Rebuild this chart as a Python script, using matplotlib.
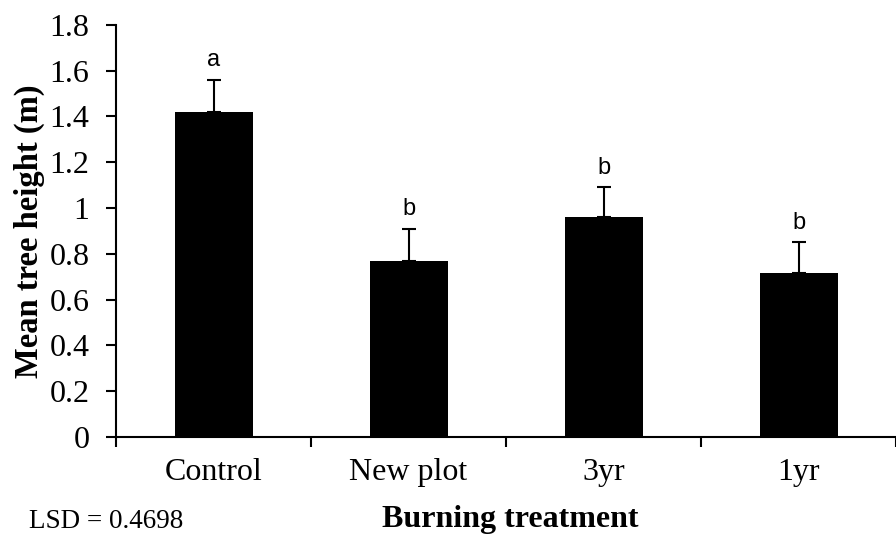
import matplotlib
matplotlib.use("Agg")
import matplotlib.pyplot as plt
import numpy as np

categories = ["Control", "New plot", "3yr", "1yr"]
means = [1.42, 0.77, 0.96, 0.715]
errors = [0.14, 0.14, 0.13, 0.135]
letters = ["a", "b", "b", "b"]
yticks = [0, 0.2, 0.4, 0.6, 0.8, 1.0, 1.2, 1.4, 1.6, 1.8]
yticklabels = ["0", "0.2", "0.4", "0.6", "0.8", "1", "1.2", "1.4", "1.6", "1.8"]

serif = "Liberation Serif"
sans = "Liberation Sans"

fig = plt.figure(figsize=(8.96, 5.35), dpi=100)
ax = fig.add_axes([116/896, (535-437)/535, 1 - 116/896, (437-24.7)/535])

x = np.arange(len(categories))
ax.bar(x, means, width=0.4, color="black", zorder=2)
ax.errorbar(x, means, yerr=[np.zeros(len(errors)), errors], fmt="none",
            ecolor="black", elinewidth=1.5, capsize=4.7, capthick=1.5, zorder=3)

for xi, m, e, l in zip(x, means, errors, letters):
    ax.annotate(l, (xi, m + e), xytext=(0, 6), textcoords="offset points",
                ha="center", va="bottom", fontsize=17, family=sans)

ax.set_ylim(0, 1.8)
ax.set_xlim(-0.5, 3.5 - 7/196.7)
ax.set_yticks(yticks)
ax.set_yticklabels(yticklabels, family=serif, fontsize=23)
ax.set_xticks([-0.5, 0.5, 1.5, 2.5, 3.5])
ax.set_xticklabels([])
ax.set_xticks(x, minor=True)
ax.set_xticklabels(categories, minor=True, family=serif, fontsize=23)
ax.tick_params(axis="x", which="minor", length=0, pad=15)
ax.tick_params(axis="x", which="major", length=7, width=1.5, direction="out")
ax.tick_params(axis="y", length=7, width=1.5, direction="out", pad=12)

for s in ["top", "right"]:
    ax.spines[s].set_visible(False)
for s in ["left", "bottom"]:
    ax.spines[s].set_linewidth(1.5)

ax.set_ylabel("Mean tree height (m)", family=serif, fontweight="bold", fontsize=23.5, labelpad=3)
fig.text(510/896, 1 - 519/535, "Burning treatment", family=serif, fontweight="bold",
         fontsize=23, ha="center", va="center")
fig.text(29/896, 1 - 522/535, "LSD = 0.4698", family=serif, fontsize=19.5,
         ha="left", va="center")

fig.savefig("out.png", dpi=100)
